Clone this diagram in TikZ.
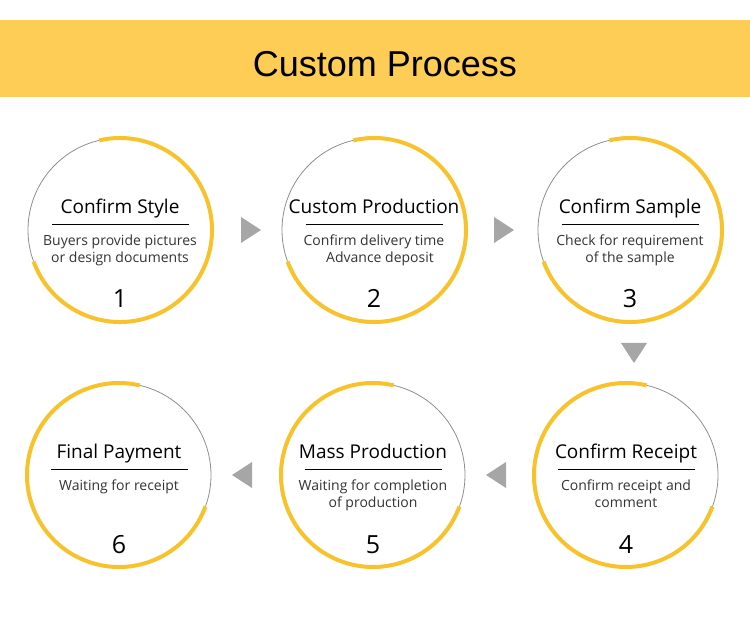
\documentclass[tikz,border=0pt]{standalone}
\usepackage{fontspec}
\setmainfont{Open Sans}
\newfontfamily\titlefont{Liberation Sans}
\definecolor{bannerYellow}{HTML}{FDCD55}
\definecolor{ringYellow}{HTML}{F8C22C}
\definecolor{ringGray}{HTML}{8E8E8E}
\definecolor{arrowGray}{HTML}{A6A6A6}
\definecolor{descGray}{HTML}{333333}

\begin{document}
\begin{tikzpicture}[x=1pt,y=1pt,
  stepcircle/.style={circle,minimum size=184pt,inner sep=0pt,outer sep=0pt},
  heading/.style={anchor=base,inner sep=0pt,font=\fontsize{19}{21}\selectfont},
  desc/.style={anchor=north,inner sep=0pt,align=center,text=descGray,font=\fontsize{14}{17}\selectfont},
  stepnum/.style={anchor=base,inner sep=0pt,font=\fontsize{25}{27}\selectfont},
  tri/.style={fill=arrowGray}]
  \useasboundingbox (0,0) rectangle (750,627);
  \fill[bannerYellow] (0,530) rectangle (750,607);
  \node[anchor=base,inner sep=0pt,font=\titlefont\fontsize{36}{40}\selectfont] (title) at (385,550) {Custom Process};
  % steps: number/x/y/start of gray arc/heading/text
  \foreach \n/\x/\y/\g/\h/\d in {1/120/397/103/Confirm Style/{Buyers provide pictures\\or design documents},
      2/374/397/103/Custom Production/{Confirm delivery time\\\hspace{12pt}Advance deposit},
      3/630/397/103/Confirm Sample/{Check for requirement\\of the sample},
      4/626/152/-20/Confirm Receipt/{Confirm receipt and\\comment},
      5/373/152/-20/Mass Production/{Waiting for completion\\of production},
      6/119/152/-20/Final Payment/{Waiting for receipt}} {
    \node[stepcircle] (s\n) at (\x,\y) {};
    \draw[ringGray,line width=.8pt] (s\n.center) ++(\g:92) arc[start angle=\g,delta angle=97,radius=92];
    \draw[ringYellow,line width=4pt] (s\n.center) ++(\g+97:92) arc[start angle=\g+97,delta angle=263,radius=92];
    \node[heading] (h\n) at ([yshift=16pt]s\n.center) {\h};
    \draw[line width=.8pt] ([shift={(-68,6)}]s\n.center) -- ++(137,0);
    \node[desc] (d\n) at ([yshift=-4.5pt]s\n.center) {\d};
    \node[stepnum] (n\n) at ([yshift=-78pt]s\n.center) {\n};
  }
  % arrows between the steps
  \foreach \x/\y/\r in {251/397/0, 504/397/0, 634/274/-90, 496/152/180, 242/152/180}
    \fill[tri,rotate around={\r:(\x,\y)}] (\x-10,\y+13) -- (\x+10,\y) -- (\x-10,\y-13) -- cycle;
\end{tikzpicture}
\end{document}
